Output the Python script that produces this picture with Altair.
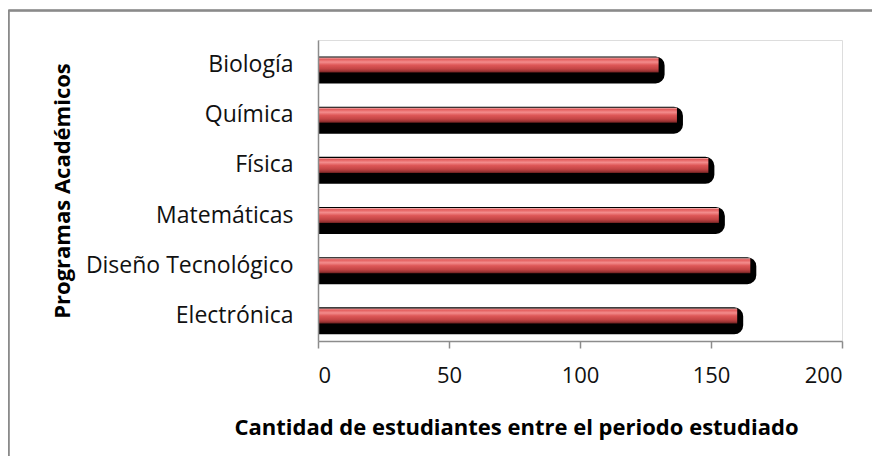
import altair as alt
import pandas as pd

programas = ["Biología", "Química", "Física", "Matemáticas", "Diseño Tecnológico", "Electrónica"]
estudiantes = [130, 137, 149, 153, 165, 160]
x_ticks = [0, 50, 100, 150, 200]

df = pd.DataFrame({"programa": programas, "cantidad": estudiantes})

FONT = "Open Sans"
W, H = 524, 301

y_enc = alt.Y(
    "programa:N",
    sort=programas,
    scale=alt.Scale(paddingInner=0, paddingOuter=0),
    axis=alt.Axis(
        title="Programas Académicos",
        titleFont=FONT, titleFontSize=22, titleFontWeight="bold", titleColor="#000000",
        titleAngle=-90, titleX=-249, titleY=150.5, titleAlign="center",
        titleBaseline="alphabetic",
        labelFont=FONT, labelFontSize=23, labelColor="#111111", labelPadding=25,
        labelLimit=0, zindex=2,
        ticks=False, domainColor="#8c8c8c", domainWidth=1.5,
    ),
)

x_enc = alt.X(
    "cantidad:Q",
    scale=alt.Scale(domain=[0, 200], nice=False),
    axis=alt.Axis(
        values=x_ticks,
        title="Cantidad de estudiantes entre el periodo estudiado",
        titleFont=FONT, titleFontSize=22, titleFontWeight="bold", titleColor="#000000",
        titleX=198, titleY=93, titleAlign="center", titleBaseline="alphabetic",
        labelFont=FONT, labelFontSize=22, labelColor="#111111", labelPadding=17,
        tickColor="#8c8c8c", tickSize=7, tickWidth=1.5, zindex=2,
        domainColor="#8c8c8c", domainWidth=1.5, grid=False,
    ),
)

# outer frame: only its top and left edges fall inside the picture
frame_top = alt.Chart(df).mark_rule(color="#8a8a8a", strokeWidth=1.5).encode(
    x=alt.value(-309.5), x2=alt.value(700), y=alt.value(-29.5)
)
frame_left = alt.Chart(df).mark_rule(color="#8a8a8a", strokeWidth=1.5).encode(
    x=alt.value(-309.5), y=alt.value(-29.5), y2=alt.value(500)
)

# black "shadow" body widened by its stroke, rounded at the right end
shadow = alt.Chart(df).mark_bar(
    color="#000000", stroke="#000000", strokeWidth=12, strokeJoin="miter",
    size=15, yOffset=4.9, cornerRadiusTopRight=3, cornerRadiusBottomRight=3,
).encode(y=y_enc, x=x_enc)

# white strip that hides the part of the shadow stroke left of the axis
mask = alt.Chart(df).mark_rect(color="#ffffff").encode(
    x=alt.value(-10), x2=alt.value(0), y=alt.value(0), y2=alt.value(H)
)

red_gradient = alt.Gradient(
    gradient="linear", x1=0, x2=0, y1=0, y2=1,
    stops=[
        alt.GradientStop(offset=0.0, color="#f6c2c2"),
        alt.GradientStop(offset=0.1, color="#e25a5a"),
        alt.GradientStop(offset=0.3, color="#f38c8c"),
        alt.GradientStop(offset=0.5, color="#de5757"),
        alt.GradientStop(offset=0.75, color="#c44545"),
        alt.GradientStop(offset=0.9, color="#9c3434"),
        alt.GradientStop(offset=1.0, color="#6a1f1f"),
    ],
)

front = alt.Chart(df).mark_bar(
    color=red_gradient, size=15,
).encode(y=y_enc, x=x_enc)

chart = alt.layer(frame_top, frame_left, shadow, mask, front).properties(
    width=W, height=H,
    autosize=alt.AutoSizeParams(type="none"),
    padding={"left": 310, "top": 32, "right": 30, "bottom": 115},
).configure_view(stroke=None).configure(background="#ffffff")

chart.save("out.html", embed_options={"renderer": "svg", "actions": False})
